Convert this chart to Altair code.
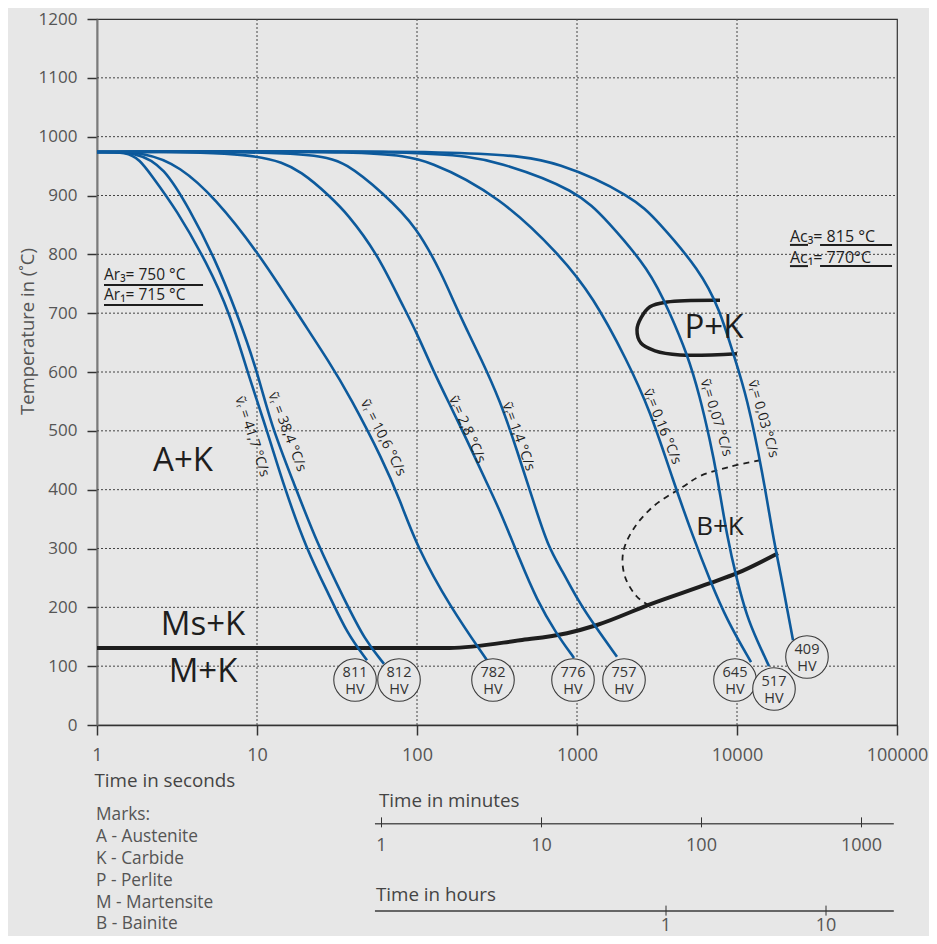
import altair as alt
import pandas as pd

BG = "#e7e7e7"
BLUE = "#0d5a9c"
INK = "#1e1e1e"
GREY = "#555555"
FONT = "Open Sans"

# ---------------- data ----------------
x_ticks = [1, 10, 100, 1000, 10000, 100000]
x_grid = [10, 100, 1000, 10000]
y_ticks = list(range(0, 1201, 50))
y_grid = [100, 200, 300, 400, 500, 600, 700, 800, 900, 1000, 1100]

# cooling curves: time (s), temperature (°C)
c417_t = [1, 1.54, 1.86, 2.14, 3.16, 4.87, 6.78, 8.91, 11.55, 14.75, 20.5, 28.6, 36.5, 48.7]
c417_T = [974, 974, 960, 938, 875, 785, 700, 591, 501, 405, 297, 218, 156, 110]
c384_t = [1, 1.78, 2.62, 3.81, 5.39, 7.5, 10, 12.24, 17.0, 23.7, 35.5, 47.3, 62.2]
c384_T = [974, 974, 949, 875, 796, 700, 603, 510, 411, 309, 211, 144, 104]
c106_t = [1, 2.05, 3.30, 5.39, 10.44, 17.8, 28.6, 38.1, 61.3, 78.3, 100, 160.7, 274]
c106_T = [974, 974, 949, 898, 799, 700, 615, 558, 450, 382, 303, 201, 110]
c28_t = [1, 11.07, 19.7, 28.6, 36.5, 56.2, 78.3, 100, 125.9, 160.7, 205.4, 258.5, 330, 440, 562, 739, 958]
c28_T = [974, 975, 938, 898, 870, 802, 722, 666, 603, 544, 484, 425, 365, 280, 212, 156, 114]
c14_t = [1, 22.7, 36.5, 61.3, 100, 145.4, 167.9, 205.4, 247.7, 330, 421.7, 530.9, 659, 806, 1014, 1259, 1778]
c14_T = [974, 975, 955, 904, 847, 762, 722, 671, 626, 552, 467, 382, 303, 263, 212, 173, 116]
c016_t = [1, 61.3, 120.5, 330, 783, 1259, 2054, 2858, 3981, 5309, 6776, 8660, 12240]
c016_T = [974, 976, 960, 898, 799, 728, 620, 535, 416, 320, 246, 178, 107]
c007_t = [1, 145.4, 330, 1000, 1540, 2858, 3811, 4870, 5870, 6776, 7499, 8660, 10000, 11550, 13340, 15850]
c007_T = [974, 977, 957, 909, 858, 773, 700, 632, 558, 484, 425, 320, 246, 184, 144, 100]
c003_t = [1, 298.5, 783, 2239, 3162, 5870, 7830, 9441, 11550, 14540, 16790, 18560, 22390]
c003_T = [974, 977, 957, 898, 858, 773, 705, 632, 558, 425, 320, 263, 144]

# martensite start line
ms_t = [1, 160, 440, 866, 1334, 2858, 6776, 10000, 18030]
ms_T = [131, 131, 144, 156, 170, 205, 241, 258, 292]

# pearlite nose
pk_t = [7830, 3652, 2858, 2512, 2371, 2512, 3073, 4404, 10000]
pk_T = [722, 719, 711, 692, 672, 649, 636, 629, 631]

# bainite (dashed)
bk_t = [13930, 9040, 5870, 4598, 2985, 2239, 1939, 1995, 2371, 2780]
bk_T = [450, 439, 423, 405, 371, 332, 292, 252, 218, 204]

# hardness circles
hv_vals = ["811", "812", "782", "776", "757", "645", "517", "409"]
hv_t = [41.0, 77.2, 298.5, 944, 1967, 9716, 17030, 27380]
hv_T = [76.5, 76.5, 76.5, 76.5, 76.5, 76.5, 61.2, 115.6]

# curve labels
lab_text = ["ṽᵣ = 41,7 °C/s", "ṽᵣ = 38,4 °C/s", "ṽᵣ = 10,6 °C/s", "ṽᵣ= 2,8 °C/s",
            "ṽᵣ= 1,4 °C/s", "ṽᵣ= 0,16 °C/s", "ṽᵣ= 0,07 °C/s", "ṽᵣ= 0,03 °C/s"]
lab_t = [9.31, 15.4, 61.3, 205, 430, 3396, 7391, 14540]
lab_T = [490, 498, 488, 502, 490, 507, 522, 520]
lab_angle = [72, 69, 63, 66, 70, 68, 73, 74]

# phase region labels
reg_text = ["A+K", "Ms+K", "M+K", "P+K"]
reg_t = [3.45, 4.6, 4.6, 7178]
reg_T = [449, 170, 90, 675]
bk_label_t = [7830]
bk_label_T = [337]

# critical temperatures
ar_text = ["Ar₃= 750 °C", "Ar₁= 715 °C"]
ar_t = [1.106, 1.106]
ar_T = [765, 731]
ac_text = ["Ac₃= 815 °C", "Ac₁= 770°C"]
ac_t = [21430, 21430]
ac_T = [830, 794]
ul_t = [1.106, 1.106, 21430, 33040, 21430, 33040]
ul_t2 = [4.60, 4.60, 27790, 93100, 27790, 93100]
ul_T = [748, 714, 816, 816, 780, 780]

# secondary time axes (positions in seconds)
min_ticks = [60, 600, 6000, 60000]
min_labels = ["1", "10", "100", "1000"]
hr_ticks = [3600, 36000]
hr_labels = ["1", "10"]
sec_axis_t = [54.6]
sec_axis_t2 = [95500]
min_axis_T = [-168]
hr_axis_T = [-316]

# legend
marks_text = ["Marks:", "A - Austenite", "K - Carbide", "P - Perlite", "M - Martensite", "B - Bainite"]
marks_T = [-153, -190, -228, -265, -302, -339]
marks_t = 0.986

# ---------------- chart ----------------
XS = alt.Scale(type="log", domain=[1, 100000], nice=False)
YS = alt.Scale(domain=[0, 1200], nice=False, zero=False)


def X(f="t"):
    return alt.X(f"{f}:Q", scale=XS)


def Y(f="T"):
    return alt.Y(f"{f}:Q", scale=YS)


xaxis = alt.Axis(values=x_ticks, labelExpr="format(datum.value, 'd')",
                 title="Time in seconds", titleAnchor="start",
                 titleAlign="left", titleX=-3, titleY=55, titleBaseline="middle",
                 titleColor="#444")
yaxis = alt.Axis(values=y_ticks, format="d",
                 labelExpr="datum.value % 100 === 0 ? datum.label : ''",
                 title="Temperature in (˚C)", titleAngle=270, titleColor=GREY,
                 titleX=-70, titleY=312, titleAlign="center", titleBaseline="middle")

dot = dict(color="#444", strokeWidth=1, strokeDash=[2, 2])

gx = alt.Chart(pd.DataFrame({"v": x_grid})).mark_rule(**dot).encode(
    x=alt.X("v:Q", scale=XS, axis=xaxis),
    y=alt.YDatum(0, scale=YS, axis=yaxis), y2=alt.Y2Datum(1200))
gy = alt.Chart(pd.DataFrame({"v": y_grid})).mark_rule(**dot).encode(
    y=alt.Y("v:Q", scale=YS, axis=yaxis),
    x=alt.XDatum(1, scale=XS, axis=xaxis), x2=alt.X2Datum(100000))

curves = [("41,7", c417_t, c417_T), ("38,4", c384_t, c384_T), ("10,6", c106_t, c106_T),
          ("2,8", c28_t, c28_T), ("1,4", c14_t, c14_T), ("0,16", c016_t, c016_T),
          ("0,07", c007_t, c007_T), ("0,03", c003_t, c003_T)]
rows = []
for name, ts, Ts in curves:
    for i, (t, T) in enumerate(zip(ts, Ts)):
        rows.append({"curve": name, "i": i, "t": t, "T": T})
cool = alt.Chart(pd.DataFrame(rows)).mark_line(
    color=BLUE, strokeWidth=2.6, interpolate="basis").encode(
    x=X(), y=Y(), detail="curve:N", order="i:Q")

ms = alt.Chart(pd.DataFrame({"t": ms_t, "T": ms_T})).mark_line(
    color=INK, strokeWidth=4, interpolate="monotone").encode(x=X(), y=Y())
pk = alt.Chart(pd.DataFrame({"t": pk_t, "T": pk_T, "i": range(len(pk_t))})).mark_line(
    color=INK, strokeWidth=3.5, interpolate="catmull-rom").encode(x=X(), y=Y(), order="i:Q")
bk = alt.Chart(pd.DataFrame({"t": bk_t, "T": bk_T, "i": range(len(bk_t))})).mark_line(
    color=INK, strokeWidth=1.8, strokeDash=[6, 5], interpolate="catmull-rom").encode(
    x=X(), y=Y(), order="i:Q")

hv_df = pd.DataFrame({"t": hv_t, "T": hv_T, "v": hv_vals})
circ = alt.Chart(hv_df).mark_point(shape="circle", size=1810, filled=True, fill=BG,
                                   stroke="#3c3c3c", strokeWidth=1.1, opacity=1).encode(
    x=X(), y=Y())
hv_num = alt.Chart(hv_df).mark_text(font=FONT, fontSize=14.5, color="#333", dy=-7,
                                    baseline="middle").encode(x=X(), y=Y(), text="v:N")
hv_unit = alt.Chart(hv_df).mark_text(font=FONT, fontSize=14.5, color="#333", dy=10,
                                     baseline="middle", text="HV").encode(x=X(), y=Y())

labs = alt.Chart(pd.DataFrame({"t": lab_t, "T": lab_T, "s": lab_text, "a": lab_angle})).mark_text(
    font=FONT, fontSize=14, color=INK, baseline="middle").encode(
    x=X(), y=Y(), text="s:N", angle=alt.Angle("a:Q", scale=None))

regs = alt.Chart(pd.DataFrame({"t": reg_t, "T": reg_T, "s": reg_text})).mark_text(
    font=FONT, fontSize=33, color=INK, baseline="middle").encode(x=X(), y=Y(), text="s:N")
bkl = alt.Chart(pd.DataFrame({"t": bk_label_t, "T": bk_label_T})).mark_text(
    font=FONT, fontSize=26, color=INK, baseline="middle", text="B+K").encode(x=X(), y=Y())

ar = alt.Chart(pd.DataFrame({"t": ar_t, "T": ar_T, "s": ar_text})).mark_text(
    font=FONT, fontSize=15.5, color=INK, align="left", baseline="middle").encode(
    x=X(), y=Y(), text="s:N")
ac = alt.Chart(pd.DataFrame({"t": ac_t, "T": ac_T, "s": ac_text})).mark_text(
    font=FONT, fontSize=16, color=INK, align="left", baseline="middle").encode(
    x=X(), y=Y(), text="s:N")
ul = alt.Chart(pd.DataFrame({"t": ul_t, "t2": ul_t2, "T": ul_T})).mark_rule(
    color=INK, strokeWidth=2).encode(x=X(), x2="t2:Q", y=Y())

# secondary axes
ax_df = pd.DataFrame({"t": sec_axis_t, "t2": sec_axis_t2})
min_line = alt.Chart(ax_df).mark_rule(color="#555", strokeWidth=1.5).encode(
    x=X(), x2="t2:Q", y=alt.YDatum(min_axis_T[0], scale=YS))
hr_line = alt.Chart(ax_df).mark_rule(color="#666", strokeWidth=2).encode(
    x=X(), x2="t2:Q", y=alt.YDatum(hr_axis_T[0], scale=YS))
min_df = pd.DataFrame({"t": min_ticks, "s": min_labels})
hr_df = pd.DataFrame({"t": hr_ticks, "s": hr_labels})
min_tk = alt.Chart(min_df).mark_rule(color="#333", strokeWidth=1).encode(
    x=X(), y=alt.YDatum(-157, scale=YS), y2=alt.Y2Datum(-174))
hr_tk = alt.Chart(hr_df).mark_rule(color="#333", strokeWidth=1).encode(
    x=X(), y=alt.YDatum(-307, scale=YS), y2=alt.Y2Datum(-324))
min_lb = alt.Chart(min_df).mark_text(font=FONT, fontSize=18, color=GREY,
                                     baseline="middle").encode(
    x=X(), y=alt.YDatum(-206, scale=YS), text="s:N")
hr_lb = alt.Chart(hr_df).mark_text(font=FONT, fontSize=18, color=GREY,
                                   baseline="middle").encode(
    x=X(), y=alt.YDatum(-341, scale=YS), text="s:N")
sec_titles = alt.Chart(pd.DataFrame({"t": [57.9, 55.4], "T": [-129, -289],
                                     "s": ["Time in minutes", "Time in hours"]})).mark_text(
    font=FONT, fontSize=18.8, color="#444", align="left", baseline="middle").encode(
    x=X(), y=Y(), text="s:N")

legend = alt.Chart(pd.DataFrame({"T": marks_T, "s": marks_text})).mark_text(
    font=FONT, fontSize=17.3, color=GREY, align="left", baseline="middle").encode(
    x=alt.XDatum(marks_t, scale=XS), y=Y(), text="s:N")

page_css = "html, body { background: #e7e7e7 !important; }"

chart = alt.layer(
    gx, gy, ms, pk, bk, cool, circ, hv_num, hv_unit, labs, regs, bkl, ar, ac, ul,
    min_line, hr_line, min_tk, hr_tk, min_lb, hr_lb, sec_titles, legend
).properties(
    width=800, height=706,
    padding={"left": 89, "top": 11, "right": 32, "bottom": 211},
    autosize=alt.AutoSizeParams(type="none"),
    background=BG,
    usermeta={"embedOptions": {"defaultStyle": page_css}},
).configure_view(
    stroke="#333", strokeWidth=1.2
).configure_axis(
    labelFont=FONT, titleFont=FONT, labelColor=GREY, tickColor="#333", tickWidth=1.5,
    tickSize=10, grid=False, labelFlush=False, labelOverlap=False,
    titleFontWeight="normal"
).configure_axisX(
    labelFontSize=18, titleFontSize=18.8, domainColor="#333", domainWidth=1.5,
    labelPadding=11
).configure_axisY(
    labelFontSize=17, titleFontSize=18.5, domainColor="#7a7a7a", domainWidth=2,
    labelPadding=10
)

chart.save("out.html", embed_options={"renderer": "svg", "actions": False})
